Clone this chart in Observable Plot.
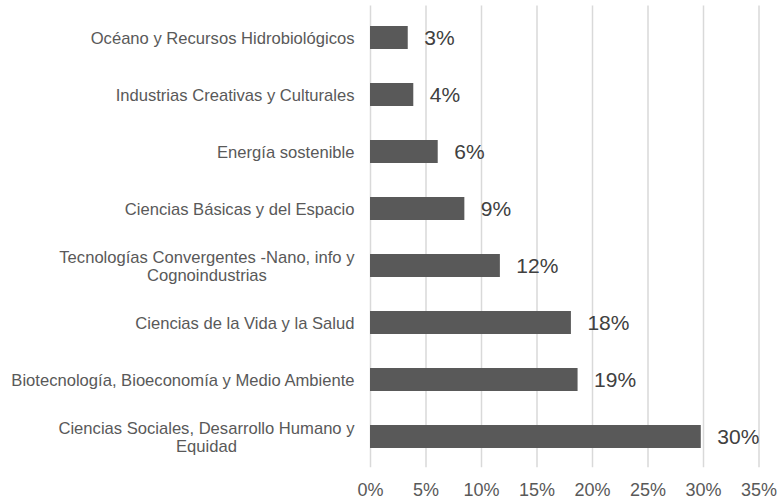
<!DOCTYPE html>
<html>
<head>
<meta charset="utf-8">
<script src="https://cdn.jsdelivr.net/npm/d3@7"></script>
<script src="https://cdn.jsdelivr.net/npm/@observablehq/plot@0.6"></script>
<style>
  html, body { margin: 0; padding: 0; background: #ffffff; }
  #chart { width: 777px; height: 499px; }
</style>
</head>
<body>
<div id="chart"></div>
<script>
// Categories (top to bottom) and their wrapped display labels
const categories = [
  "Océano y Recursos Hidrobiológicos",
  "Industrias Creativas y Culturales",
  "Energía sostenible",
  "Ciencias Básicas y del Espacio",
  "Tecnologías Convergentes -Nano, info y Cognoindustrias",
  "Ciencias de la Vida y la Salud",
  "Biotecnología, Bioeconomía y Medio Ambiente",
  "Ciencias Sociales, Desarrollo Humano y Equidad"
];
const categoryLabels = [
  "Océano y Recursos Hidrobiológicos",
  "Industrias Creativas y Culturales",
  "Energía sostenible",
  "Ciencias Básicas y del Espacio",
  "Tecnologías Convergentes -Nano, info y\nCognoindustrias",
  "Ciencias de la Vida y la Salud",
  "Biotecnología, Bioeconomía y Medio Ambiente",
  "Ciencias Sociales, Desarrollo Humano y\nEquidad"
];
// Values in percent
const values = [3.4, 3.9, 6.1, 8.5, 11.7, 18.1, 18.7, 29.8];
const valueLabels = ["3%", "4%", "6%", "9%", "12%", "18%", "19%", "30%"];
const xTicks = [0, 5, 10, 15, 20, 25, 30, 35];

const data = categories.map((c, i) => ({category: c, value: values[i], label: valueLabels[i]}));
const labelOf = new Map(categories.map((c, i) => [c, categoryLabels[i]]));

const chart = Plot.plot({
  width: 777,
  height: 499,
  marginLeft: 370,
  marginRight: 18.5,
  marginTop: 5.6,
  marginBottom: 31.7,
  style: {fontFamily: "'Liberation Sans', Arial, sans-serif", background: "#ffffff"},
  x: {domain: [0, 35], label: null},
  y: {domain: categories, paddingInner: 0.6, paddingOuter: 0.3, label: null},
  marks: [
    Plot.gridX(xTicks, {stroke: "#d9d9d9", strokeOpacity: 1, strokeWidth: 1.5}),
    Plot.barX(data, {x: "value", y: "category", fill: "#595959"}),
    Plot.text(data, {x: "value", y: "category", text: "label", textAnchor: "start", dx: 16, fontSize: 21, fill: "#404040"}),
    Plot.axisX({ticks: xTicks, tickSize: 0, tickPadding: 15, fontSize: 18, color: "#595959", label: null, tickFormat: d => d + "%"}),
    Plot.axisY({tickSize: 0, tickPadding: 16, fontSize: 16.6, color: "#595959", label: null, lineHeight: 1.09, tickFormat: d => labelOf.get(d)})
  ]
});

document.getElementById("chart").appendChild(chart);

// Center the lines of wrapped category labels relative to each other (right-aligned block)
chart.querySelectorAll("text").forEach(t => {
  const spans = t.querySelectorAll("tspan");
  if (spans.length > 1) {
    let maxW = 0;
    spans.forEach(s => { maxW = Math.max(maxW, s.getComputedTextLength()); });
    t.setAttribute("text-anchor", "middle");
    spans.forEach(s => s.setAttribute("x", -maxW / 2));
  }
});
</script>
</body>
</html>
